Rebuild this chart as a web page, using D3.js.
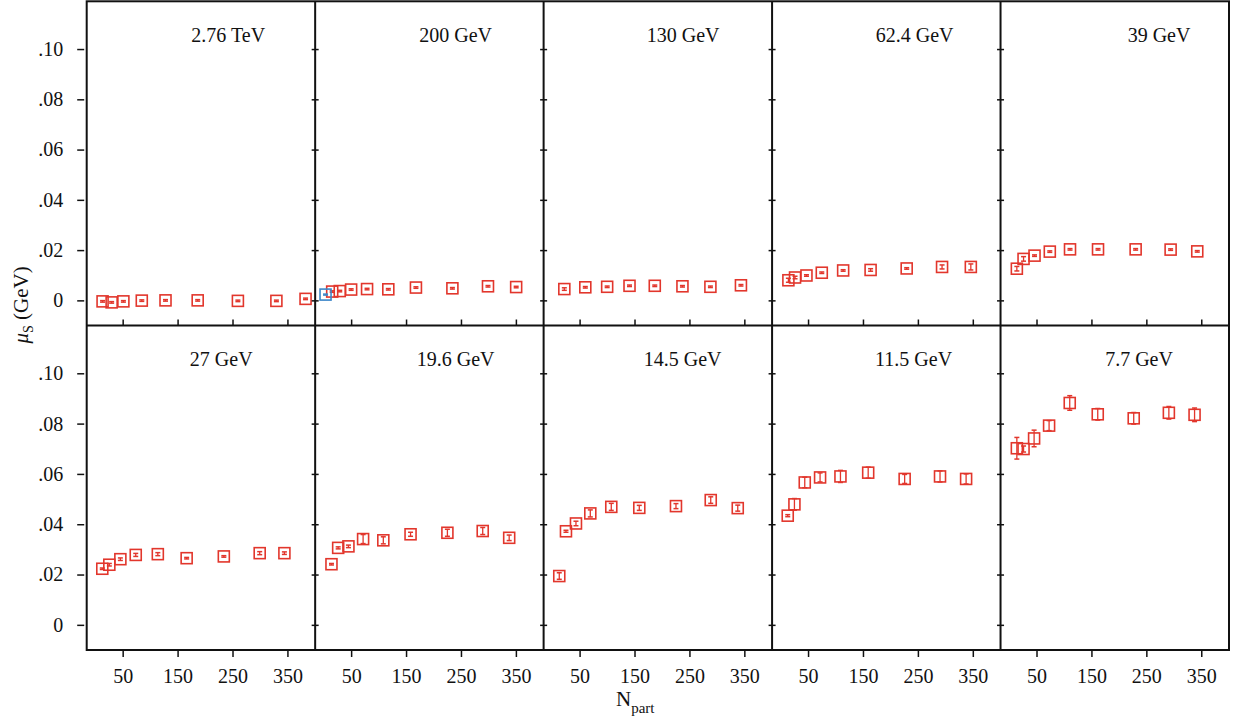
<!DOCTYPE html>
<html>
<head>
<meta charset="utf-8">
<script src="https://cdn.jsdelivr.net/npm/d3@7"></script>
<style>
  html, body { margin: 0; padding: 0; background: #fff; }
  svg { display: block; }
  text { font-family: "Liberation Serif", "DejaVu Serif", serif; fill: #111; }
</style>
</head>
<body>
<svg id="chart" width="1233" height="725"></svg>
<script>
// ---------------- DATA ----------------
const energies = ["2.76 TeV", "200 GeV", "130 GeV", "62.4 GeV", "39 GeV",
                  "27 GeV", "19.6 GeV", "14.5 GeV", "11.5 GeV", "7.7 GeV"];

const npart_2760 = [13.4, 29.9, 51.3, 84.8, 128, 186.6, 259.8, 329.9, 383];
const mu_2760    = [-0.0004, -0.0008, -0.0004, -0.0001, 0.0000, 0.0000, -0.0002, -0.0002, 0.0006];
const err_2760   = [0.0003, 0.0003, 0.0003, 0.0003, 0.0003, 0.0003, 0.0003, 0.0003, 0.0003];

const npart_200 = [15.5, 29.3, 50, 79, 117.7, 168, 234.4, 299.2, 350.5];
const mu_200    = [0.0035, 0.0037, 0.0043, 0.0045, 0.0044, 0.0051, 0.0048, 0.0056, 0.0053];
const err_200   = [0.0003, 0.0003, 0.0003, 0.0003, 0.0003, 0.0003, 0.0003, 0.0003, 0.0003];
const npart_200_pp = [3.4];
const mu_200_pp    = [0.0023];
const err_200_pp   = [0.0002];

const npart_130 = [22.2, 60.4, 100.2, 140.9, 186.9, 237.3, 288.2, 343.8];
const mu_130    = [0.0045, 0.0052, 0.0054, 0.0058, 0.0058, 0.0056, 0.0054, 0.0060];
const err_130   = [0.0005, 0.0003, 0.0003, 0.0003, 0.0003, 0.0003, 0.0003, 0.0003];

const npart_62 = [14.2, 26.3, 47.1, 75, 113.9, 163.9, 229.6, 294, 346.4];
const mu_62    = [0.0080, 0.0091, 0.0099, 0.0110, 0.0119, 0.0121, 0.0127, 0.0133, 0.0133];
const err_62   = [0.0008, 0.0005, 0.0003, 0.0003, 0.0003, 0.0005, 0.0003, 0.0008, 0.0012];

const npart_39 = [14.2, 26.4, 46.4, 74.2, 111, 162, 230.5, 294.2, 342.7];
const mu_39    = [0.0126, 0.0165, 0.0178, 0.0194, 0.0203, 0.0203, 0.0203, 0.0202, 0.0195];
const err_39   = [0.0009, 0.0009, 0.0003, 0.0003, 0.0003, 0.0003, 0.0003, 0.0003, 0.0003];

const npart_27 = [12.9, 25.7, 45.8, 73.8, 114, 166.5, 234.2, 299.5, 344.5];
const mu_27    = [0.0223, 0.0239, 0.0261, 0.0278, 0.0281, 0.0265, 0.0272, 0.0285, 0.0285];
const err_27   = [0.0003, 0.0005, 0.0005, 0.0006, 0.0006, 0.0003, 0.0003, 0.0006, 0.0005];

const npart_19 = [14.2, 26.4, 45.1, 71.8, 108.6, 158.2, 225.3, 289.6, 337.8];
const mu_19    = [0.0241, 0.0306, 0.0312, 0.0341, 0.0336, 0.0360, 0.0366, 0.0373, 0.0346];
const err_19   = [0.0003, 0.0004, 0.0005, 0.0018, 0.0014, 0.0008, 0.0014, 0.0014, 0.0011];

const npart_14 = [13, 25.2, 43.4, 69.5, 107.7, 158.7, 225.5, 288.8, 338];
const mu_14    = [0.0194, 0.0372, 0.0403, 0.0443, 0.0469, 0.0465, 0.0472, 0.0496, 0.0464];
const err_14   = [0.0013, 0.0004, 0.0009, 0.0014, 0.0014, 0.0010, 0.0010, 0.0013, 0.0012];

const npart_11 = [13, 25.2, 44, 71.9, 109, 159.5, 225.9, 290.3, 337.8];
const mu_11    = [0.0434, 0.0479, 0.0566, 0.0586, 0.0590, 0.0605, 0.0580, 0.0590, 0.0580];
const err_11   = [0.0004, 0.0023, 0.0021, 0.0018, 0.0024, 0.0022, 0.0018, 0.0022, 0.0020];

const npart_7 = [14.2, 26.4, 45.6, 72.9, 110.5, 161.5, 227, 291, 337.8];
const mu_7    = [0.0702, 0.0699, 0.0741, 0.0792, 0.0882, 0.0837, 0.0821, 0.0843, 0.0835];
const err_7   = [0.0043, 0.0012, 0.0033, 0.0020, 0.0029, 0.0023, 0.0023, 0.0025, 0.0027];

const xTicks = [50, 150, 250, 350];
const yTicks = [0, 0.02, 0.04, 0.06, 0.08, 0.10];
const yTickLabels = ["0", ".02", ".04", ".06", ".08", ".10"];

// series per panel (built from the arrays above)
const panelSeries = [
  [{n: npart_2760, v: mu_2760, e: err_2760, kind: "AA"}],
  [{n: npart_200, v: mu_200, e: err_200, kind: "AA"}, {n: npart_200_pp, v: mu_200_pp, e: err_200_pp, kind: "pp"}],
  [{n: npart_130, v: mu_130, e: err_130, kind: "AA"}],
  [{n: npart_62, v: mu_62, e: err_62, kind: "AA"}],
  [{n: npart_39, v: mu_39, e: err_39, kind: "AA"}],
  [{n: npart_27, v: mu_27, e: err_27, kind: "AA"}],
  [{n: npart_19, v: mu_19, e: err_19, kind: "AA"}],
  [{n: npart_14, v: mu_14, e: err_14, kind: "AA"}],
  [{n: npart_11, v: mu_11, e: err_11, kind: "AA"}],
  [{n: npart_7, v: mu_7, e: err_7, kind: "AA"}]
];

// ---------------- LAYOUT ----------------
const colLeft = 86.7, colW = 228.46;
const rowTops = [1.3, 325.5], rowBots = [325.5, 650];
const titleOffsets = [141.5, 140.5, 139.5, 142.5, 158.5, 134.5, 140.5, 139, 141.5, 138.5];
const titleBaselines = [42, 366];
const colors = {AA: "#e2362c", pp: "#3d87c9"};
const boxSize = 11;

const svg = d3.select("#chart");
const xDomain = [-15.5, 400.5];
const yDomain = [-0.01, 0.119];

const g = svg.append("g");

for (let i = 0; i < 10; i++) {
  const r = Math.floor(i / 5), c = i % 5;
  const x0 = colLeft + c * colW;
  const x = d3.scaleLinear().domain(xDomain).range([x0, x0 + colW]);
  const y = d3.scaleLinear().domain(yDomain).range([rowBots[r], rowTops[r]]);
  const p = g.append("g");

  if (c === 0) {
    p.append("g")
      .attr("transform", `translate(${x0 - 2.5},0)`)
      .call(d3.axisLeft(y).tickValues(yTicks).tickSize(7).tickPadding(14)
        .tickFormat((d, k) => yTickLabels[k]))
      .call(a => a.select(".domain").remove())
      .call(a => a.selectAll("line").attr("stroke", "#111").attr("stroke-width", 1.5))
      .call(a => a.selectAll("text").attr("font-size", 20)
        .attr("font-family", "Liberation Serif, serif").attr("fill", "#111"));
  } else {
    p.append("g").attr("transform", `translate(${x0},0)`)
      .call(d3.axisLeft(y).tickValues(yTicks).tickSize(3.5).tickFormat(""))
      .call(a => a.select(".domain").remove())
      .call(a => a.selectAll("line").attr("stroke", "#111").attr("stroke-width", 1.5));
    p.append("g").attr("transform", `translate(${x0},0)`)
      .call(d3.axisRight(y).tickValues(yTicks).tickSize(3.5).tickFormat(""))
      .call(a => a.select(".domain").remove())
      .call(a => a.selectAll("line").attr("stroke", "#111").attr("stroke-width", 1.5));
  }

  if (r === 0) {
    p.append("g").attr("transform", `translate(0,${rowBots[0]})`)
      .call(d3.axisTop(x).tickValues(xTicks).tickSize(6).tickFormat(""))
      .call(a => a.select(".domain").remove())
      .call(a => a.selectAll("line").attr("stroke", "#111").attr("stroke-width", 1.5));
  } else {
    p.append("g").attr("transform", `translate(0,${rowBots[1] + 1})`)
      .call(d3.axisBottom(x).tickValues(xTicks).tickSize(6).tickPadding(12).tickFormat(d3.format("d")))
      .call(a => a.select(".domain").remove())
      .call(a => a.selectAll("line").attr("stroke", "#111").attr("stroke-width", 1.5))
      .call(a => a.selectAll("text").attr("font-size", 20)
        .attr("font-family", "Liberation Serif, serif").attr("fill", "#111"));
  }

  p.append("text")
    .attr("x", x0 + titleOffsets[i])
    .attr("y", titleBaselines[r])
    .attr("text-anchor", "middle")
    .attr("font-size", 20)
    .text(energies[i]);

  panelSeries[i].forEach(s => {
    const pts = s.n.map((n, k) => ({n, v: s.v[k], e: s.e[k]}));
    const col = colors[s.kind];
    const m = p.append("g").selectAll("g").data(pts).join("g");
    m.append("rect")
      .attr("x", d => x(d.n) - boxSize / 2)
      .attr("y", d => y(d.v) - boxSize / 2)
      .attr("width", boxSize).attr("height", boxSize)
      .attr("fill", "none").attr("stroke", col).attr("stroke-width", 1.6);
    m.append("line")
      .attr("x1", d => x(d.n)).attr("x2", d => x(d.n))
      .attr("y1", d => y(d.v - d.e)).attr("y2", d => y(d.v + d.e))
      .attr("stroke", col).attr("stroke-width", 1.3);
    m.append("line")
      .attr("x1", d => x(d.n) - 2.5).attr("x2", d => x(d.n) + 2.5)
      .attr("y1", d => y(d.v - d.e)).attr("y2", d => y(d.v - d.e))
      .attr("stroke", col).attr("stroke-width", 1.5);
    m.append("line")
      .attr("x1", d => x(d.n) - 2.5).attr("x2", d => x(d.n) + 2.5)
      .attr("y1", d => y(d.v + d.e)).attr("y2", d => y(d.v + d.e))
      .attr("stroke", col).attr("stroke-width", 1.5);
  });
}

const frame = svg.append("g").attr("stroke", "#111").attr("stroke-width", 2).attr("fill", "none");
frame.append("rect")
  .attr("x", colLeft).attr("y", rowTops[0])
  .attr("width", colW * 5).attr("height", rowBots[1] - rowTops[0]);
for (let c = 1; c < 5; c++) {
  frame.append("line")
    .attr("x1", colLeft + c * colW).attr("x2", colLeft + c * colW)
    .attr("y1", rowTops[0]).attr("y2", rowBots[1]);
}
frame.append("line")
  .attr("x1", colLeft).attr("x2", colLeft + colW * 5)
  .attr("y1", rowBots[0]).attr("y2", rowBots[0]);

const xt = svg.append("text").attr("x", 616).attr("y", 706).attr("font-size", 21);
xt.append("tspan").text("N");
xt.append("tspan").attr("font-size", 15).attr("dy", 7).text("part");

const yt = svg.append("text")
  .attr("transform", "translate(28,305) rotate(-90)")
  .attr("text-anchor", "middle").attr("font-size", 21);
yt.append("tspan").attr("font-style", "italic").text("μ");
yt.append("tspan").attr("font-size", 14).attr("dy", 5).text("S");
yt.append("tspan").attr("dy", -5).text(" (GeV)");
</script>
</body>
</html>
